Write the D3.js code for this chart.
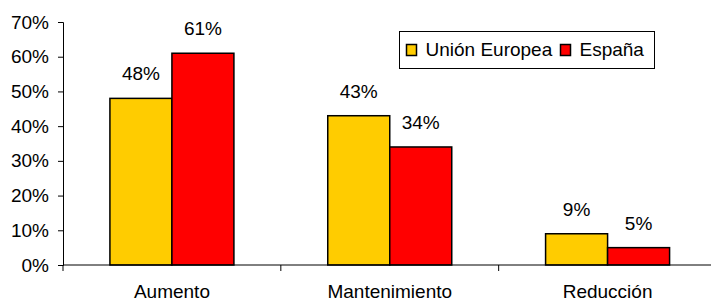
<!DOCTYPE html>
<html><head><meta charset="utf-8">
<script src="https://cdn.jsdelivr.net/npm/d3@7"></script>
<style>body{margin:0;background:#fff;}svg{display:block;font-family:"Liberation Sans",Arial,sans-serif;}</style>
</head><body>
<svg id="c" width="711" height="302"></svg>
<script>
const categories = ["Aumento", "Mantenimiento", "Reducción"];
const seriesNames = ["Unión Europea", "España"];
const ueValues = [48, 43, 9];
const espValues = [61, 34, 5];
const yTicks = [0, 10, 20, 30, 40, 50, 60, 70];
const colors = ["#FFCC00", "#FF0000"];

(function () {
const svg = d3.select("#c");
const mL = 63, mR = 716.5, mT = 22, mB = 265;
const fs = 19;

const x = d3.scaleBand().domain(categories).range([mL, mR]).paddingInner(0).paddingOuter(0);
const x1 = d3.scaleBand().domain(seriesNames).range([0, 124]);
const y = d3.scaleLinear().domain([0, 70]).range([mB, mT]);

const data = categories.map((c, i) => ({cat: c, vals: [ueValues[i], espValues[i]]}));

const g = svg.append("g");
data.forEach(d => {
  const cx = x(d.cat) + x.bandwidth() / 2;
  const gx = cx - 62;
  d.vals.forEach((v, j) => {
    g.append("rect")
      .attr("x", gx + x1(seriesNames[j]))
      .attr("y", y(v))
      .attr("width", x1.bandwidth())
      .attr("height", y(0) - y(v))
      .attr("fill", colors[j])
      .attr("stroke", "#000")
      .attr("stroke-width", 1.5);
    g.append("text")
      .attr("x", gx + x1(seriesNames[j]) + x1.bandwidth() / 2)
      .attr("y", y(v) - 18)
      .attr("text-anchor", "middle")
      .attr("font-size", fs)
      .attr("fill", "#000")
      .text(v + "%");
  });
});

// Y axis
const yAxis = d3.axisLeft(y).tickValues(yTicks).tickFormat(d => d + "%").tickSize(5).tickPadding(9);
const ya = svg.append("g").attr("transform", `translate(${mL},0)`).call(yAxis);
ya.selectAll("text").attr("font-size", fs).attr("fill", "#000").attr("font-family", "Liberation Sans, Arial, sans-serif");
ya.selectAll("line,path").attr("stroke", "#000");

// X axis
const xAxis = d3.axisBottom(x).tickSize(0).tickPadding(20);
const xa = svg.append("g").attr("transform", `translate(0,${mB})`).call(xAxis);
xa.select("path").attr("stroke", "#000").attr("d", `M${mL},0H${mR}`);
xa.selectAll("text").attr("font-size", fs).attr("fill", "#000").attr("font-family", "Liberation Sans, Arial, sans-serif");
const bounds = categories.map(c => x(c)).concat([mR]);
xa.selectAll(".bt").data(bounds).enter().append("line")
  .attr("x1", d => d).attr("x2", d => d).attr("y1", 0).attr("y2", 6).attr("stroke", "#000");

// Legend
const lg = svg.append("g");
lg.append("rect").attr("x", 399.5).attr("y", 31.5).attr("width", 255).attr("height", 37)
  .attr("fill", "#fff").attr("stroke", "#000").attr("stroke-width", 1);
const legX = [406.5, 560.5];
seriesNames.forEach((n, j) => {
  lg.append("rect").attr("x", legX[j]).attr("y", 44.5).attr("width", 10).attr("height", 11)
    .attr("fill", colors[j]).attr("stroke", "#000").attr("stroke-width", 1.5);
  lg.append("text").attr("x", legX[j] + 19).attr("y", 55.5).attr("font-size", fs).attr("fill", "#000").text(n);
});
})();
</script>
</body></html>
